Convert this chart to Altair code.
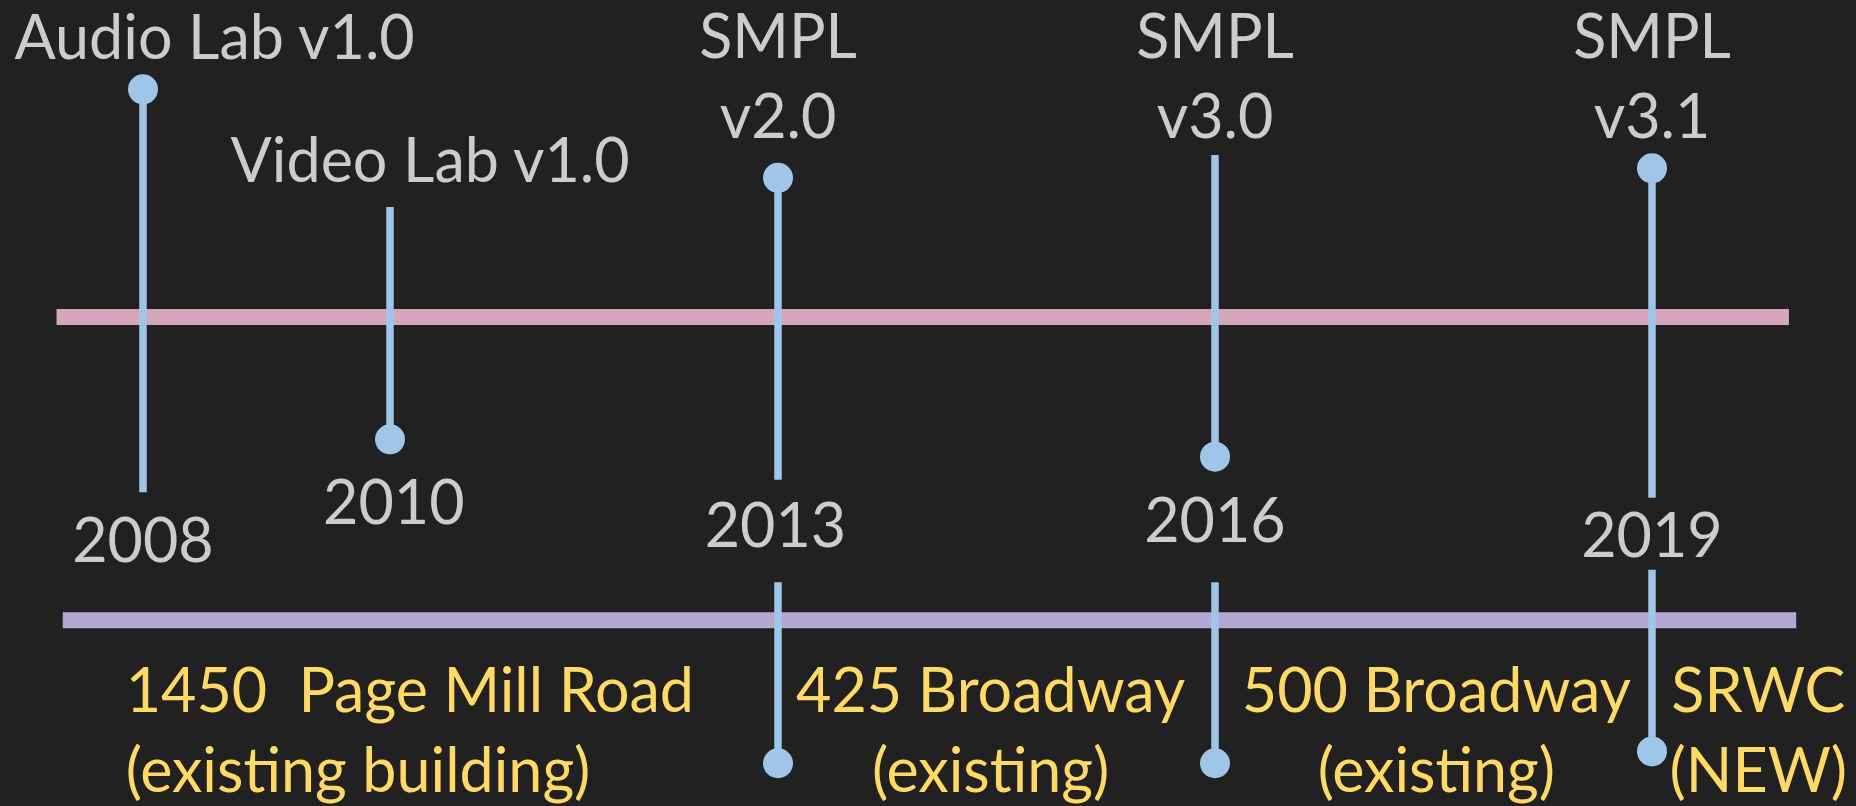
import altair as alt
import pandas as pd

# ---------------- data ----------------
event_years = [2008, 2010, 2013, 2016, 2019]
event_labels = ["Audio Lab v1.0", "Video Lab v1.0", "SMPL\nv2.0", "SMPL\nv3.0", "SMPL\nv3.1"]
event_label_pos = [2008.58, 2010.31, 2013.0, 2016.0, 2019.0]
event_label_level = [93.5, 78.0, 93.7, 93.7, 93.7]
event_stem_top = [89.7, 74.8, 78.5, 81.4, 79.7]
event_stem_bottom = [38.7, 45.4, 40.3, 43.2, 38.0]
event_dot_level = [89.7, 45.4, 78.5, 43.2, 79.7]

year_labels = ["2008", "2010", "2013", "2016", "2019"]
year_label_pos = [2008.0, 2010.03, 2012.98, 2016.0, 2019.0]
year_label_level = [29.9, 34.7, 31.8, 32.4, 30.5]

move_years = [2013, 2016, 2019]
move_stem_top = [27.3, 27.3, 28.9]
move_dot_level = [4.4, 4.4, 5.9]

addr_center_labels = ["425 Broadway\n(existing)", "500 Broadway\n(existing)", "SRWC\n(NEW)"]
addr_center_pos = [2014.46, 2017.52, 2019.73]
addr_left_labels = ["1450\u00a0 Page Mill Road\n(existing building)"]
addr_left_pos = [2007.86]
addr_level = 10.9

track_names = ["events", "buildings"]
track_start = [2007.30, 2007.35]
track_end = [2019.94, 2019.99]
track_level = [60.9, 22.5]
track_colors = ["#d5a6bd", "#b4a7d6"]

# ---------------- page background (dark, like the slide) ----------------
try:
    import altair.utils.html as _h
    _orig_tpl = _h.TEMPLATES["standard"]

    class _DarkPage:
        def render(self, *a, **k):
            return _orig_tpl.render(*a, **k).replace(
                "<head>",
                "<head>\n<style>html,body{background:#212121;overflow:hidden;}</style>",
                1,
            )

    _h.TEMPLATES["standard"] = _DarkPage()
except Exception:
    pass

# ---------------- tables ----------------
events = pd.DataFrame({
    "year": event_years, "label": event_labels, "label_pos": event_label_pos,
    "label_level": event_label_level, "top": event_stem_top,
    "bottom": event_stem_bottom, "dot": event_dot_level,
    "ylabel": year_labels, "ylabel_pos": year_label_pos, "ylabel_level": year_label_level,
})
moves = pd.DataFrame({"year": move_years, "top": move_stem_top, "dot": move_dot_level})
addr_c = pd.DataFrame({"label": addr_center_labels, "pos": addr_center_pos,
                       "level": [addr_level] * len(addr_center_labels)})
addr_l = pd.DataFrame({"label": addr_left_labels, "pos": addr_left_pos,
                       "level": [addr_level] * len(addr_left_labels)})
tracks = pd.DataFrame({"name": track_names, "start": track_start, "end": track_end,
                       "level": track_level, "color": track_colors})

W, H = 1840, 798
xscale = alt.Scale(domain=[2008, 2010, 2013, 2019], range=[135, 382, 770, 1644],
                   zero=False, nice=False)
yscale = alt.Scale(domain=[0, 100], range=[790, 0], zero=False, nice=False)

BLUE = "#9fc5e8"
GREY = "#cccccc"
YELLOW = "#ffd966"
FONT = "Lato"
FS = 61


def X(f):
    return alt.X(f, type="quantitative", scale=xscale, axis=None)


def Y(f):
    return alt.Y(f, type="quantitative", scale=yscale, axis=None)


track_layer = alt.Chart(tracks).mark_rule(strokeWidth=16, strokeCap="butt").encode(
    x=X("start"), x2="end", y=Y("level"), color=alt.Color("color:N", scale=None)
)

stems = alt.Chart(events).mark_rule(strokeWidth=7.5, color=BLUE, strokeCap="butt").encode(
    x=X("year"), y=Y("top"), y2="bottom"
)
dots = alt.Chart(events).mark_circle(size=900, color=BLUE, opacity=1).encode(
    x=X("year"), y=Y("dot")
)
move_stems = alt.Chart(moves).mark_rule(strokeWidth=7.5, color=BLUE, strokeCap="butt").encode(
    x=X("year"), y=Y("top"), y2="dot"
)
move_dots = alt.Chart(moves).mark_circle(size=900, color=BLUE, opacity=1).encode(
    x=X("year"), y=Y("dot")
)

text_kw = dict(font=FONT, fontSize=FS, baseline="alphabetic", lineBreak="\n", lineHeight=80)

event_text = alt.Chart(events).mark_text(align="center", color=GREY, **text_kw).encode(
    x=X("label_pos"), y=Y("label_level"), text="label:N"
)
year_text = alt.Chart(events).mark_text(align="center", color=GREY, **text_kw).encode(
    x=X("ylabel_pos"), y=Y("ylabel_level"), text="ylabel:N"
)
addr_c_text = alt.Chart(addr_c).mark_text(align="center", color=YELLOW, **text_kw).encode(
    x=X("pos"), y=Y("level"), text="label:N"
)
addr_l_text = alt.Chart(addr_l).mark_text(align="left", color=YELLOW, **text_kw).encode(
    x=X("pos"), y=Y("level"), text="label:N"
)

chart = alt.layer(
    track_layer, stems, move_stems, dots, move_dots,
    event_text, year_text, addr_c_text, addr_l_text,
).properties(
    width=W, height=H,
    autosize=alt.AutoSizeParams(type="none"),
    padding=0,
    background="#212121",
).configure_view(strokeWidth=0)

chart.save("out.html", embed_options={"renderer": "svg", "actions": False})
